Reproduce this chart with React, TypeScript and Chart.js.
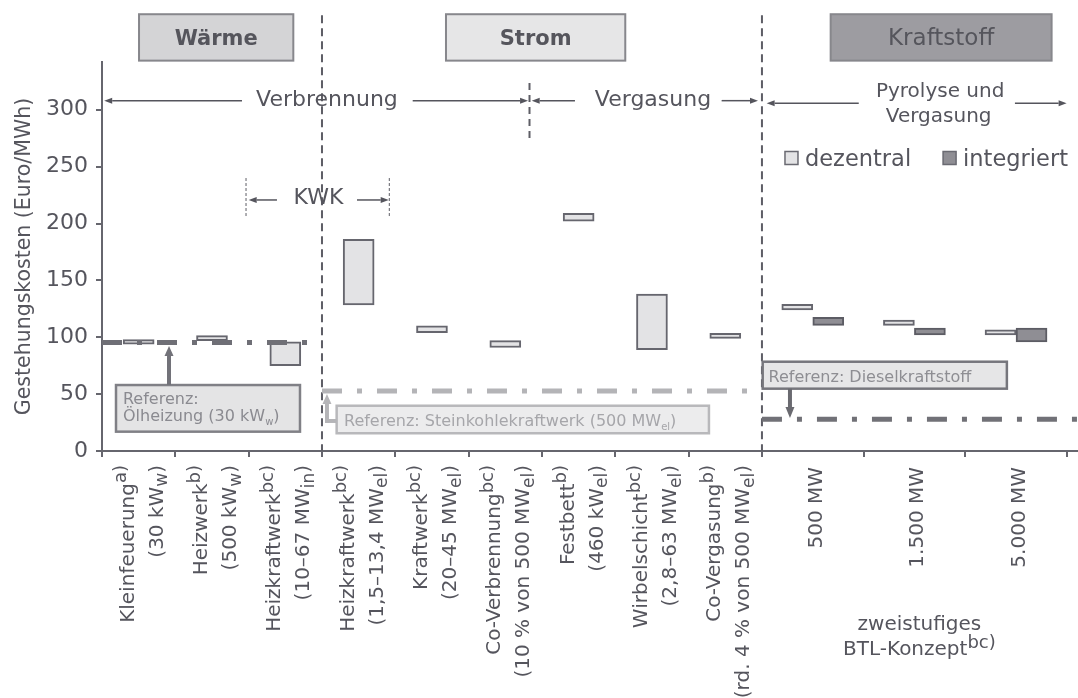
import React, { useEffect, useRef } from "react";
import { Chart, registerables } from "chart.js";

Chart.register(...registerables);

const FONT = "'DejaVu Sans', sans-serif";
const TEXT = "#55555d";
const AXIS = "#66666e";
const SEP = "#5e5e66";

// ---------- data ----------
const categoryLine1 = [
  "Kleinfeuerung^{a)}",
  "Heizwerk^{b)}",
  "Heizkraftwerk^{bc)}",
  "Heizkraftwerk^{bc)}",
  "Kraftwerk^{bc)}",
  "Co-Verbrennung^{bc)}",
  "Festbett^{b)}",
  "Wirbelschicht^{bc)}",
  "Co-Vergasung^{b)}",
  "500 MW",
  "1.500 MW",
  "5.000 MW",
];
const categoryLine2 = [
  "(30 kW_{w})",
  "(500 kW_{w})",
  "(10–67 MW_{in})",
  "(1,5–13,4 MW_{el})",
  "(20–45 MW_{el})",
  "(10 % von 500 MW_{el})",
  "(460 kW_{el})",
  "(2,8–63 MW_{el})",
  "(rd. 4 % von 500 MW_{el})",
  "",
  "",
  "",
];
// relative width of each category slot on the x axis
const categoryWidths = [1, 1, 1, 1, 1, 1, 1, 1, 1, 1.386, 1.386, 1.386];

const dezentral: ([number, number] | null)[] = [
  [94, 98],
  [97, 101.5],
  [75, 96],
  [128.5, 186],
  [104, 110],
  [91, 97],
  [202, 209],
  [89, 138],
  [99, 103.5],
  [124, 129],
  [110.5, 115],
  [102, 106.5],
];
const integriert: ([number, number] | null)[] = [
  null, null, null, null, null, null, null, null, null,
  [110.5, 117.5],
  [102, 108],
  [96, 108],
];
const seriesNames = ["dezentral", "integriert"];

const yTicks = [0, 50, 100, 150, 200, 250, 300];
const Y_MAX = 342;
const X_MAX = 13.31;

const sectionTitles = ["Wärme", "Strom", "Kraftstoff"];
const referenceNames = [
  "Referenz:\nÖlheizung (30 kW_{w})",
  "Referenz: Steinkohlekraftwerk (500 MW_{el})",
  "Referenz: Dieselkraftstoff",
];
const referenceValues = [95.5, 52.8, 27.9];
const referenceFrom = [0, 3, 9];
const referenceTo = [2.8, 8.8, X_MAX];

const processLabels = ["Verbrennung", "Vergasung", "Pyrolyse und\nVergasung", "KWK"];
const conceptLabel = ["zweistufiges", "BTL-Konzept^{bc)}"];
const yTitle = "Gestehungskosten (Euro/MWh)";

// derived
const boundaries = categoryWidths.reduce<number[]>(
  (acc, w) => {
    acc.push(acc[acc.length - 1] + w);
    return acc;
  },
  [0]
);
const centers = categoryWidths.map((w, i) => boundaries[i] + w / 2);

// ---------- drawing helpers ----------
type Seg = { t: string; k: number };
function parseRich(s: string): Seg[] {
  const out: Seg[] = [];
  const re = /\^\{([^}]*)\}|_\{([^}]*)\}/g;
  let last = 0;
  let m: RegExpExecArray | null;
  while ((m = re.exec(s))) {
    if (m.index > last) out.push({ t: s.slice(last, m.index), k: 0 });
    if (m[1] !== undefined) out.push({ t: m[1], k: 1 });
    else out.push({ t: m[2], k: -1 });
    last = re.lastIndex;
  }
  if (last < s.length) out.push({ t: s.slice(last), k: 0 });
  return out;
}

function drawRich(
  ctx: CanvasRenderingContext2D,
  s: string,
  x: number,
  y: number,
  size: number,
  align: "left" | "center" | "right",
  color: string,
  opts: { weight?: string; sup?: number; sub?: number } = {}
) {
  const weight = opts.weight || "normal";
  const supScale = opts.sup ?? 0.85;
  const subScale = opts.sub ?? 0.75;
  const segs = parseRich(s);
  const fontFor = (k: number) =>
    `${weight} ${k === 0 ? size : Math.round(size * (k === 1 ? supScale : subScale))}px ${FONT}`;
  const widths = segs.map((sg) => {
    ctx.font = fontFor(sg.k);
    return ctx.measureText(sg.t).width;
  });
  const total = widths.reduce((a, b) => a + b, 0);
  let cx = align === "left" ? x : align === "center" ? x - total / 2 : x - total;
  ctx.textAlign = "left";
  ctx.textBaseline = "alphabetic";
  ctx.fillStyle = color;
  segs.forEach((sg, i) => {
    ctx.font = fontFor(sg.k);
    const dy = sg.k === 1 ? -0.36 * size : sg.k === -1 ? 0.24 * size : 0;
    ctx.fillText(sg.t, cx, y + dy);
    cx += widths[i];
  });
}

function arrow(
  ctx: CanvasRenderingContext2D,
  x1: number,
  y1: number,
  x2: number,
  y2: number,
  color: string,
  lw: number,
  headLen: number,
  headW: number
) {
  const ang = Math.atan2(y2 - y1, x2 - x1);
  const bx = x2 - headLen * Math.cos(ang);
  const by = y2 - headLen * Math.sin(ang);
  ctx.setLineDash([]);
  ctx.strokeStyle = color;
  ctx.lineWidth = lw;
  ctx.beginPath();
  ctx.moveTo(x1, y1);
  ctx.lineTo(bx, by);
  ctx.stroke();
  ctx.fillStyle = color;
  ctx.beginPath();
  ctx.moveTo(x2, y2);
  ctx.lineTo(bx + (headW / 2) * Math.sin(ang), by - (headW / 2) * Math.cos(ang));
  ctx.lineTo(bx - (headW / 2) * Math.sin(ang), by + (headW / 2) * Math.cos(ang));
  ctx.closePath();
  ctx.fill();
}

function vLine(
  ctx: CanvasRenderingContext2D,
  x: number,
  y1: number,
  y2: number,
  dash: number[],
  lw: number,
  color: string
) {
  ctx.setLineDash(dash);
  ctx.strokeStyle = color;
  ctx.lineWidth = lw;
  ctx.beginPath();
  ctx.moveTo(x, y1);
  ctx.lineTo(x, y2);
  ctx.stroke();
  ctx.setLineDash([]);
}

function box(
  ctx: CanvasRenderingContext2D,
  x1: number,
  y1: number,
  x2: number,
  y2: number,
  fill: string,
  stroke: string,
  lw: number
) {
  ctx.setLineDash([]);
  ctx.fillStyle = fill;
  ctx.fillRect(x1, y1, x2 - x1, y2 - y1);
  ctx.strokeStyle = stroke;
  ctx.lineWidth = lw;
  ctx.strokeRect(x1, y1, x2 - x1, y2 - y1);
}

function centeredText(ctx: CanvasRenderingContext2D, t: string, x: number, y: number, size: number) {
  ctx.fillStyle = TEXT;
  ctx.font = `${size}px ${FONT}`;
  ctx.textAlign = "center";
  ctx.textBaseline = "middle";
  ctx.fillText(t, x, y);
}

const separatorPlugin = {
  id: "separators",
  beforeDatasetsDraw(chart: any) {
    const ctx: CanvasRenderingContext2D = chart.ctx;
    const X = (v: number) => chart.scales.x.getPixelForValue(v);
    const Y = (v: number) => chart.scales.y.getPixelForValue(v);
    ctx.save();
    vLine(ctx, X(boundaries[3]), Y(383), Y(0), [8, 5], 2, SEP);
    vLine(ctx, X(boundaries[9]), Y(383), Y(0), [8, 5], 2, SEP);
    vLine(ctx, X(5.83), Y(323.5), Y(271), [7, 5], 2, SEP);
    vLine(ctx, X(1.964), Y(240), Y(205.7), [3, 2], 1, SEP);
    vLine(ctx, X(3.918), Y(240), Y(205.7), [3, 2], 1, SEP);
    ctx.restore();
  },
};

const annotationPlugin = {
  id: "annotations",
  afterDraw(chart: any) {
    const ctx: CanvasRenderingContext2D = chart.ctx;
    const X = (v: number) => chart.scales.x.getPixelForValue(v);
    const Y = (v: number) => chart.scales.y.getPixelForValue(v);
    ctx.save();

    // section headers
    const headerX = [
      [0.505, 2.609],
      [4.691, 7.136],
      [9.937, 12.95],
    ];
    const headerFill = ["#d4d4d6", "#e6e6e7", "#9d9ca1"];
    const headerWeight = ["bold", "bold", "normal"];
    const headerSize = [21, 21, 23];
    sectionTitles.forEach((t, i) => {
      const x1 = X(headerX[i][0]);
      const x2 = X(headerX[i][1]);
      const y1 = Y(384);
      const y2 = Y(343.2);
      box(ctx, x1, y1, x2, y2, headerFill[i], "#87878c", 2);
      drawRich(ctx, t, (x1 + x2) / 2, (y1 + y2) / 2 + 8, headerSize[i], "center", "#55555c", {
        weight: headerWeight[i],
      });
    });

    // process labels with arrows
    const yA = Y(308);
    centeredText(ctx, processLabels[0], X(3.068), yA, 22);
    arrow(ctx, X(1.909), yA, X(0.03), yA, TEXT, 1.5, 8, 6);
    arrow(ctx, X(4.237), yA, X(5.81), yA, TEXT, 1.5, 8, 6);
    centeredText(ctx, processLabels[1], X(7.514), yA, 22);
    arrow(ctx, X(6.45), yA, X(5.86), yA, TEXT, 1.5, 8, 6);
    arrow(ctx, X(8.45), yA, X(8.946), yA, TEXT, 1.5, 8, 6);

    const pyro = processLabels[2].split("\n");
    centeredText(ctx, pyro[0], X(11.43), Y(315.6), 20);
    centeredText(ctx, pyro[1], X(11.41), Y(293.6), 20);
    const yP = Y(305.8);
    arrow(ctx, X(10.32), yP, X(9.064), yP, TEXT, 1.5, 8, 6);
    arrow(ctx, X(12.45), yP, X(13.155), yP, TEXT, 1.5, 8, 6);

    const yK = Y(220.7);
    centeredText(ctx, processLabels[3], X(2.952), Y(222.5), 22);
    arrow(ctx, X(2.386), yK, X(2.0), yK, TEXT, 1.5, 8, 6);
    arrow(ctx, X(3.477), yK, X(3.91), yK, TEXT, 1.5, 8, 6);

    // legend
    const barSets = chart.data.datasets.filter((d: any) => d.type === "bar");
    const legendX = [9.314, 11.47];
    const yL = Y(257.6);
    barSets.forEach((d: any, i: number) => {
      const sx = X(legendX[i]);
      box(ctx, sx, yL - 6.5, sx + 13, yL + 6.5, d.backgroundColor, "#6a6a72", 1.5);
      drawRich(ctx, d.label, sx + 20, yL + 8, 22.5, "left", TEXT);
    });

    // reference boxes and arrows
    // Ölheizung
    box(ctx, X(0.191), Y(58), X(2.7), Y(17), "#e4e4e5", "#808086", 2.5);
    const oel = referenceNames[0].split("\n");
    drawRich(ctx, oel[0], X(0.286), Y(46.6) + 6, 16, "left", "#8a8a90");
    drawRich(ctx, oel[1], X(0.286), Y(31.7) + 6, 16, "left", "#8a8a90", { sub: 0.65 });
    arrow(ctx, X(0.914), Y(58), X(0.914), Y(92.3), "#727279", 4, 10, 9);

    // Steinkohle
    box(ctx, X(3.2), Y(39.8), X(8.277), Y(15.6), "#ececed", "#b8b8bb", 2.5);
    drawRich(ctx, referenceNames[1], X(3.3), Y(27.3) + 6, 16, "left", "#a6a6aa", { sub: 0.65 });
    ctx.strokeStyle = "#b5b5b8";
    ctx.lineWidth = 4;
    ctx.setLineDash([]);
    ctx.beginPath();
    ctx.moveTo(X(3.2), Y(26.4));
    ctx.lineTo(X(3.068) - 2, Y(26.4));
    ctx.stroke();
    arrow(ctx, X(3.068), Y(26.4) + 2, X(3.068), Y(50.1), "#b5b5b8", 4, 10, 9);

    // Diesel
    box(ctx, X(9.01), Y(78.5), X(12.34), Y(54.8), "#e6e6e7", "#76767c", 2.5);
    drawRich(ctx, referenceNames[2], X(9.09), Y(65.9) + 6, 16, "left", "#8e8e93");
    arrow(ctx, X(9.382), Y(54.8), X(9.382), Y(29), "#6a6a70", 4, 11, 9);

    // x category labels (rotated)
    const anchorY = Y(0) + 14;
    categoryLine1.forEach((l1, i) => {
      const cx = X(centers[i]);
      const l2 = categoryLine2[i];
      ctx.save();
      ctx.translate(cx, anchorY);
      ctx.rotate(-Math.PI / 2);
      if (l2) {
        drawRich(ctx, l1, 0, -5, 20, "right", TEXT, { sup: 0.9 });
        drawRich(ctx, l2, 0, 24, 20, "right", TEXT, { sub: 0.85 });
      } else {
        drawRich(ctx, l1, -2, 9, 20, "right", TEXT);
      }
      ctx.restore();
    });

    // concept label under Kraftstoff
    const cX = X((boundaries[9] + boundaries[12]) / 2) + 5;
    drawRich(ctx, conceptLabel[0], cX, Y(0) + 179, 20, "center", TEXT);
    drawRich(ctx, conceptLabel[1], cX, Y(0) + 204, 20, "center", TEXT, { sup: 0.9 });

    ctx.restore();
  },
};

function refDataset(i: number, color: string) {
  return {
    type: "line" as const,
    label: referenceNames[i],
    data: [
      { x: referenceFrom[i], y: referenceValues[i] },
      { x: referenceTo[i], y: referenceValues[i] },
    ],
    borderColor: color,
    borderWidth: 5,
    borderDash: [20, 15, 5, 15],
    borderCapStyle: "butt" as const,
    pointRadius: 0,
    fill: false,
    order: 0,
  };
}

export default function App() {
  const ref = useRef<HTMLCanvasElement>(null);

  useEffect(() => {
    const canvas = ref.current;
    if (!canvas) return;
    const chart = new Chart(canvas, {
      type: "bar",
      data: {
        datasets: [
          refDataset(0, "#6f6f76") as any,
          refDataset(1, "#b4b4b7") as any,
          refDataset(2, "#717177") as any,
          {
            type: "bar",
            label: seriesNames[0],
            data: dezentral.map((v, i) => ({ x: centers[i], y: v })) as any,
            backgroundColor: "#e3e3e5",
            borderColor: "#66666e",
            borderWidth: 2,
            borderSkipped: false,
            barThickness: 31,
            skipNull: true,
            order: 1,
          } as any,
          {
            type: "bar",
            label: seriesNames[1],
            data: integriert.map((v, i) => ({ x: centers[i], y: v })) as any,
            backgroundColor: "#8f8e94",
            borderColor: "#5c5c64",
            borderWidth: 2,
            borderSkipped: false,
            barThickness: 31,
            skipNull: true,
            order: 1,
          } as any,
        ],
      },
      options: {
        animation: false,
        responsive: false,
        devicePixelRatio: 1,
        layout: { padding: { top: 62, right: 0, bottom: 0, left: 0 }, autoPadding: false } as any,
        plugins: { legend: { display: false }, tooltip: { enabled: false } },
        scales: {
          x: {
            type: "linear",
            min: 0,
            max: X_MAX,
            offset: false,
            grid: {
              offset: false,
              drawOnChartArea: false,
              drawTicks: true,
              tickLength: 6,
              color: AXIS,
              lineWidth: 2,
            },
            border: { color: AXIS, width: 2 },
            ticks: { display: false },
            afterBuildTicks: (s: any) => {
              s.ticks = boundaries.map((v) => ({ value: v }));
            },
            afterFit: (s: any) => {
              s.height = 247;
            },
          },
          y: {
            type: "linear",
            min: 0,
            max: Y_MAX,
            grid: {
              drawOnChartArea: false,
              drawTicks: true,
              tickLength: 6,
              color: AXIS,
              lineWidth: 2,
            },
            border: { color: AXIS, width: 2 },
            ticks: { font: { family: FONT, size: 22 }, color: TEXT, padding: 8 },
            afterBuildTicks: (s: any) => {
              s.ticks = yTicks.map((v) => ({ value: v }));
            },
            afterFit: (s: any) => {
              s.width = 102;
            },
            title: {
              display: true,
              text: yTitle,
              font: { family: FONT, size: 20.5 },
              color: TEXT,
              padding: { top: 12, bottom: 0 },
            },
          },
        } as any,
      },
      plugins: [separatorPlugin, annotationPlugin],
    });
    return () => chart.destroy();
  }, []);

  return (
    <div
      style={{
        position: "absolute",
        left: 0,
        top: 0,
        width: 1078,
        height: 698,
        background: "#ffffff",
      }}
    >
      <canvas ref={ref} width={1078} height={698} style={{ display: "block", width: 1078, height: 698 }} />
    </div>
  );
}
